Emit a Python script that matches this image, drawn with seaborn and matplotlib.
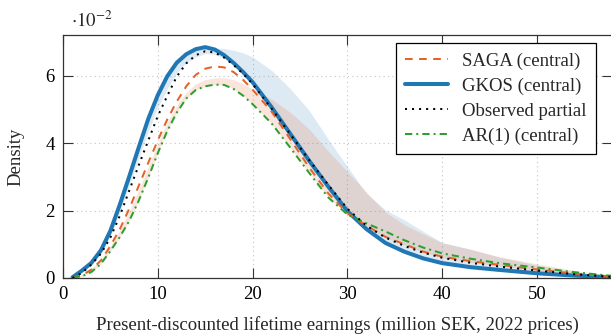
import numpy as np
import pandas as pd
import matplotlib
matplotlib.use("Agg")
import matplotlib.pyplot as plt
import seaborn as sns

# ---------------- data (density in units of 1e-2) ----------------
x = [1, 2, 3, 4, 5, 6, 7, 8, 9, 10, 11, 12, 13, 14, 15, 16, 17, 18, 19, 20,
     22, 24, 26, 28, 30, 32, 34, 36, 38, 40, 43, 46, 50, 54, 58]

gkos = [0.02, 0.22, 0.45, 0.82, 1.40, 2.18, 3.02, 3.88, 4.72, 5.42, 5.98, 6.38,
        6.63, 6.78, 6.84, 6.77, 6.60, 6.37, 6.10, 5.80, 5.06, 4.26, 3.46, 2.70,
        1.98, 1.45, 1.04, 0.78, 0.58, 0.44, 0.32, 0.24, 0.14, 0.07, 0.02]

saga = [0.00, 0.08, 0.25, 0.52, 0.95, 1.45, 2.06, 2.74, 3.42, 4.08, 4.70, 5.23,
        5.68, 6.02, 6.20, 6.27, 6.24, 6.10, 5.87, 5.58, 4.93, 4.10, 3.26, 2.50,
        1.92, 1.55, 1.22, 1.00, 0.78, 0.63, 0.50, 0.39, 0.25, 0.13, 0.04]

observed = [0.00, 0.15, 0.40, 0.72, 1.20, 1.85, 2.60, 3.35, 4.08, 4.80, 5.40, 5.97,
            6.36, 6.60, 6.72, 6.68, 6.53, 6.31, 6.05, 5.75, 5.02, 4.25, 3.48, 2.75,
            2.05, 1.55, 1.20, 0.95, 0.75, 0.60, 0.45, 0.34, 0.22, 0.11, 0.03]

ar1 = [0.00, 0.05, 0.18, 0.42, 0.80, 1.22, 1.70, 2.30, 2.98, 3.70, 4.36, 4.90,
       5.32, 5.57, 5.68, 5.73, 5.72, 5.60, 5.40, 5.15, 4.58, 3.85, 3.10, 2.38,
       1.88, 1.62, 1.38, 1.12, 0.90, 0.73, 0.57, 0.44, 0.31, 0.17, 0.06]

gkos_lo = [0.00, 0.18, 0.40, 0.74, 1.25, 1.95, 2.75, 3.55, 4.35, 5.05, 5.62, 6.08,
           6.38, 6.55, 6.65, 6.62, 6.52, 6.32, 6.08, 5.78, 5.03, 4.23, 3.43, 2.68,
           1.96, 1.43, 1.02, 0.76, 0.57, 0.43, 0.31, 0.23, 0.13, 0.06, 0.01]
gkos_hi = [0.02, 0.22, 0.45, 0.82, 1.40, 2.18, 3.02, 3.88, 4.72, 5.42, 5.98, 6.38,
           6.63, 6.78, 6.84, 6.82, 6.80, 6.75, 6.67, 6.55, 6.15, 5.60, 4.95, 4.10,
           3.30, 2.50, 2.02, 1.72, 1.38, 1.05, 0.85, 0.62, 0.38, 0.18, 0.00]

saga_lo = [0.00, 0.05, 0.18, 0.42, 0.80, 1.22, 1.70, 2.30, 2.98, 3.70, 4.36, 4.90,
           5.32, 5.57, 5.68, 5.73, 5.72, 5.60, 5.40, 5.15, 4.58, 3.85, 3.10, 2.38,
           1.88, 1.50, 1.20, 0.98, 0.76, 0.60, 0.46, 0.36, 0.23, 0.12, 0.03]
saga_hi = [0.00, 0.10, 0.28, 0.55, 0.95, 1.42, 1.98, 2.62, 3.30, 3.98, 4.62, 5.12,
           5.50, 5.75, 5.88, 5.93, 5.93, 5.88, 5.75, 5.60, 5.30, 4.90, 4.40, 3.75,
           3.15, 2.55, 1.95, 1.58, 1.30, 1.04, 0.85, 0.63, 0.42, 0.22, 0.05]

labels = ["SAGA (central)", "GKOS (central)", "Observed partial", "AR(1) (central)"]
xticks = [0, 10, 20, 30, 40, 50]
yticks = [0, 2, 4, 6]

# ---------------- style ----------------
sns.set_style("white")
plt.rcParams["font.family"] = ["Liberation Serif", "DejaVu Serif"]
plt.rcParams["mathtext.fontset"] = "stix"
FS = 13.5

C_BLUE = "#1f77b4"
C_ORANGE = "#e3632b"
C_GREEN = "#2ca02c"
C_BLACK = "#000000"

W, H = 611, 335
fig = plt.figure(figsize=(W / 100, H / 100), dpi=100)
ax = fig.add_axes([63 / W, (H - 278) / H, (612 - 63) / W, (278 - 35) / H])

df = pd.DataFrame({"x": x, "gkos": gkos, "saga": saga, "obs": observed, "ar1": ar1})

# bands
ax.fill_between(x, gkos_lo, gkos_hi, color=C_BLUE, alpha=0.15, lw=0, zorder=1)
ax.fill_between(x, saga_lo, saga_hi, color=C_ORANGE, alpha=0.17, lw=0, zorder=1.1)

sns.lineplot(data=df, x="x", y="gkos", ax=ax, color=C_BLUE, lw=2.9,
             linestyle="-", zorder=3, label=labels[1])
sns.lineplot(data=df, x="x", y="saga", ax=ax, color=C_ORANGE, lw=1.45,
             linestyle=(0, (3.8, 3.2)), zorder=4, label=labels[0])
sns.lineplot(data=df, x="x", y="ar1", ax=ax, color=C_GREEN, lw=1.45,
             linestyle=(0, (3.6, 2.0, 1.0, 2.0)), zorder=4, label=labels[3])
sns.lineplot(data=df, x="x", y="obs", ax=ax, color=C_BLACK, lw=1.45,
             linestyle=(0, (1.0, 2.5)), zorder=5, label=labels[2])

ax.set_xlim(0, 57.9)
ax.set_ylim(0, 7.2)
ax.set_xticks(xticks)
ax.set_yticks(yticks)
ax.set_xticklabels([str(t) for t in xticks], fontsize=FS)
ax.set_yticklabels([str(t) for t in yticks], fontsize=FS)
ax.tick_params(direction="in", length=7.5, width=0.8, top=True, right=True,
               bottom=True, left=True, pad=6, colors="#333333", labelcolor="black")
ax.grid(True, color="#c4c4c4", linestyle=(0, (1, 3)), lw=0.8)
ax.set_axisbelow(True)
for s in ax.spines.values():
    s.set_color("#333333")
    s.set_linewidth(0.9)
    s.set_visible(True)

ax.set_xlabel("Present-discounted lifetime earnings (million SEK, 2022 prices)",
              fontsize=FS, labelpad=9)
ax.set_ylabel("Density", fontsize=FS, labelpad=15)

fig.text(71 / W, 1 - 21 / H, r"$\cdot 10^{-2}$", fontsize=FS, va="center", ha="left")

# legend in order
hmap = {l.get_label(): l for l in ax.get_lines()}
handles = [hmap[lab] for lab in labels]
leg = ax.legend(handles, labels, loc="upper right",
                bbox_to_anchor=(596 / W, 1 - 43 / H), bbox_transform=fig.transFigure,
                fontsize=FS, frameon=True, fancybox=False, edgecolor="black",
                framealpha=1, borderaxespad=0, handlelength=2.3, handletextpad=0.75,
                labelspacing=0.42, borderpad=0.5)
leg.get_frame().set_linewidth(0.9)

fig.savefig("out.png", dpi=100)
